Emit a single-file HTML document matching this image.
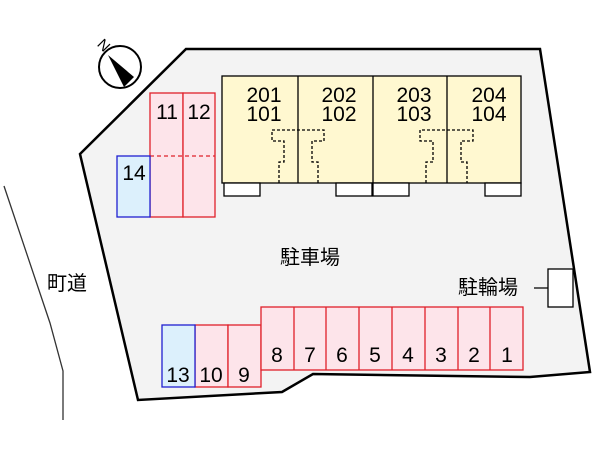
<!DOCTYPE html><html><head><meta charset="utf-8"><style>body{margin:0;background:#fff}</style></head><body>
<svg width="600" height="450" xmlns="http://www.w3.org/2000/svg" font-family="Liberation Sans, Noto Sans CJK JP, sans-serif">
<polygon points="186,49 540,49 590,372 530,377 313,374 282,392 138,400 80,154" fill="#f3f3f3" stroke="#000" stroke-width="2.5"/>
<polyline points="4,186 50,323 63,371 63,420" fill="none" stroke="#333" stroke-width="1.3"/>
<text x="47" y="290" font-size="20">町道</text>
<g transform="translate(120,67)">
<circle r="21" fill="#fff" stroke="#000" stroke-width="2"/>
<polygon points="-12,-12 14,10 4,20" fill="#000"/>
<text x="-22" y="-18" font-size="15" transform="rotate(45 -18 -22)">N</text>
</g>
<rect x="222" y="76" width="299" height="107" fill="#fff8d0" stroke="#000" stroke-width="1.3"/>
<path d="M298,76V183M373,76V183M447,76V183" stroke="#000" stroke-width="1.3"/>
<g fill="#fff" stroke="#000" stroke-width="1.3"><rect x="224" y="183" width="36" height="13"/><rect x="336" y="183" width="36" height="13"/><rect x="373" y="183" width="36" height="13"/><rect x="485" y="183" width="36" height="13"/></g>
<g fill="none" stroke="#000" stroke-width="1.3" stroke-dasharray="3,2">
<path d="M279,183V162h5V141h-12V130h52V141h-12V162h6V183"/>
<path d="M426,183V162h7V141h-13V130h53V141h-12V162h6V183"/>
</g>
<g font-size="21" text-anchor="middle">
<text x="264" y="102">201</text><text x="264" y="121">101</text>
<text x="339" y="102">202</text><text x="339" y="121">102</text>
<text x="414" y="102">203</text><text x="414" y="121">103</text>
<text x="489" y="102">204</text><text x="489" y="121">104</text>
</g>
<g stroke="#e0202a" stroke-width="1.3" fill="#fde4ea">
<rect x="150" y="93" width="33" height="124"/><rect x="183" y="93" width="32" height="124"/>
<rect x="195" y="325" width="33" height="62"/><rect x="228" y="325" width="33" height="62"/>
<rect x="261" y="307" width="262" height="63"/>
<path d="M294,307V370M326,307V370M359,307V370M392,307V370M425,307V370M458,307V370M490,307V370" fill="none"/>
<path d="M150,156H215" stroke-dasharray="4,3" fill="none"/>
</g>
<g stroke="#2020d0" stroke-width="1.3" fill="#dcf0fc">
<rect x="117" y="156" width="33" height="61"/><rect x="162" y="325" width="33" height="62"/>
</g>
<g font-size="21" text-anchor="middle">
<text x="167" y="119">11</text><text x="199" y="119">12</text><text x="134" y="180">14</text>
<text x="178" y="382">13</text><text x="211" y="382">10</text><text x="244" y="382">9</text>
<text x="277" y="362">8</text><text x="310" y="362">7</text><text x="342" y="362">6</text><text x="375" y="362">5</text><text x="408" y="362">4</text><text x="441" y="362">3</text><text x="474" y="362">2</text><text x="507" y="362">1</text>
</g>
<text x="280" y="264" font-size="20">駐車場</text>
<text x="458" y="294" font-size="20">駐輪場</text>
<path d="M534,288H561" stroke="#000" stroke-width="1.2"/>
<rect x="548" y="269" width="25" height="38" fill="#fff" stroke="#000" stroke-width="1.3"/>
</svg>
</body></html>
